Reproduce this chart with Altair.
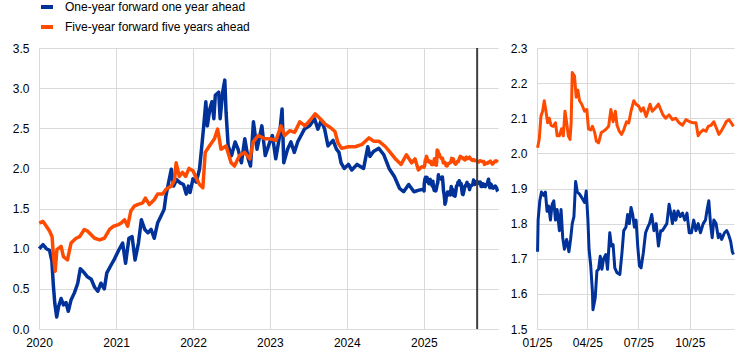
import altair as alt
import pandas as pd

S1 = "One-year forward one year ahead"
S2 = "Five-year forward five years ahead"
BLUE = "#003299"
ORANGE = "#FF4B00"
FONT = "Liberation Sans"

# ---------- 2020-2024 history (left panel) ----------
blue_hist_dates = [
    "2020-01-02", "2020-01-20", "2020-02-05", "2020-02-20", "2020-03-02", "2020-03-09", "2020-03-16",
    "2020-03-25", "2020-04-03", "2020-04-15", "2020-04-26", "2020-05-08", "2020-05-19", "2020-06-01",
    "2020-06-17", "2020-07-03", "2020-07-15", "2020-08-03", "2020-08-18", "2020-09-05", "2020-09-21",
    "2020-10-06", "2020-10-21", "2020-11-06", "2020-11-18", "2020-12-09", "2020-12-22",
    "2021-01-15", "2021-02-01", "2021-02-15", "2021-03-03", "2021-03-18", "2021-04-01", "2021-04-17",
    "2021-05-01", "2021-05-17", "2021-06-01", "2021-06-16", "2021-07-01", "2021-07-17", "2021-08-01",
    "2021-08-17", "2021-08-25", "2021-09-10", "2021-09-20", "2021-10-01", "2021-10-15", "2021-11-01",
    "2021-11-17", "2021-11-30", "2021-12-10", "2021-12-18",
    "2022-01-01", "2022-01-16", "2022-02-01", "2022-02-12", "2022-02-21", "2022-03-03", "2022-03-10",
    "2022-03-22", "2022-04-01", "2022-04-10", "2022-04-17", "2022-05-03", "2022-05-10", "2022-05-22",
    "2022-06-01", "2022-06-07", "2022-06-17", "2022-07-03", "2022-07-20", "2022-08-03", "2022-08-19",
    "2022-09-04", "2022-09-20", "2022-10-01", "2022-10-15", "2022-11-01", "2022-11-24", "2022-12-10",
    "2023-01-01", "2023-01-13", "2023-01-29", "2023-02-14", "2023-02-28", "2023-03-08", "2023-03-26",
    "2023-04-11", "2023-04-27", "2023-05-13", "2023-05-29", "2023-06-14", "2023-07-08", "2023-08-01",
    "2023-08-17", "2023-09-02", "2023-09-18", "2023-10-04", "2023-10-28", "2023-11-13", "2023-11-25",
    "2023-12-05", "2023-12-20",
    "2024-01-09", "2024-01-25", "2024-02-19", "2024-03-21", "2024-04-10", "2024-04-20", "2024-05-07",
    "2024-06-01", "2024-06-25", "2024-07-20", "2024-08-14", "2024-09-08", "2024-09-27", "2024-10-21",
    "2024-11-15", "2024-12-09", "2024-12-30",
]
blue_hist_vals = [
    1.00, 1.05, 1.00, 0.98, 0.85, 0.55, 0.32,
    0.15, 0.28, 0.38, 0.30, 0.33, 0.22, 0.36,
    0.45, 0.57, 0.75, 0.70, 0.65, 0.62, 0.52,
    0.47, 0.57, 0.50, 0.70, 0.80, 0.86,
    0.99, 1.07, 0.82, 1.13, 1.15, 0.86, 1.07,
    1.36, 1.24, 1.20, 1.24, 1.13, 1.32, 1.40,
    1.49, 1.65, 1.86, 1.99, 1.78, 1.86, 1.82,
    1.80, 1.68, 1.78, 1.70,
    1.87, 1.83, 1.99, 2.28, 2.53, 2.83, 2.53,
    2.74, 2.83, 2.62, 2.91, 2.95, 2.62, 2.95,
    3.10, 2.70, 2.28, 2.16, 2.33, 2.24, 2.07,
    2.37, 2.12, 2.03, 2.58, 2.24, 2.53, 2.16,
    2.33, 2.41, 2.12, 2.37, 2.74, 2.07, 2.24,
    2.33, 2.20, 2.33, 2.41, 2.49, 2.53, 2.62,
    2.49, 2.60, 2.49, 2.28, 2.35, 2.24, 2.20,
    2.07, 2.00,
    2.05, 1.98, 2.05, 2.00, 2.27, 2.15, 2.21,
    2.25, 2.17, 2.00, 1.90, 1.75, 1.71, 1.80,
    1.71, 1.73, 1.74,
]

orange_hist_dates = [
    "2020-01-02", "2020-01-20", "2020-02-05", "2020-02-20", "2020-03-03", "2020-03-10", "2020-03-18",
    "2020-03-26", "2020-04-15", "2020-04-26", "2020-05-15", "2020-06-01", "2020-06-25", "2020-07-12",
    "2020-08-03", "2020-08-18", "2020-09-21", "2020-10-15", "2020-11-06", "2020-12-01", "2020-12-20",
    "2021-01-12", "2021-01-25", "2021-02-10", "2021-02-25", "2021-03-12", "2021-03-28", "2021-04-13",
    "2021-05-07", "2021-05-20", "2021-06-08", "2021-07-01", "2021-07-17", "2021-08-10", "2021-08-26",
    "2021-09-20", "2021-10-05", "2021-10-13", "2021-10-28", "2021-11-12", "2021-11-27", "2021-12-13",
    "2022-01-01", "2022-01-20", "2022-02-01", "2022-02-17", "2022-02-28", "2022-03-20", "2022-04-13",
    "2022-04-28", "2022-05-14", "2022-06-07", "2022-07-01", "2022-07-17", "2022-08-10", "2022-09-03",
    "2022-09-28", "2022-10-14", "2022-11-07", "2022-12-08",
    "2023-01-01", "2023-01-30", "2023-02-23", "2023-03-12", "2023-04-05", "2023-04-29", "2023-05-23",
    "2023-06-17", "2023-07-11", "2023-08-04", "2023-08-28", "2023-09-21", "2023-10-15", "2023-11-06",
    "2023-11-20", "2023-12-07",
    "2024-01-09", "2024-02-10", "2024-03-14", "2024-04-15", "2024-05-07", "2024-06-01", "2024-07-03",
    "2024-07-28", "2024-08-22", "2024-09-15", "2024-10-10", "2024-11-04", "2024-11-20", "2024-12-06",
    "2024-12-22",
]
orange_hist_vals = [
    1.32, 1.34, 1.28, 1.22, 1.15, 0.90, 0.72,
    0.99, 1.03, 0.90, 0.86, 1.07, 1.13, 1.15,
    1.24, 1.22, 1.13, 1.11, 1.13, 1.24, 1.28,
    1.30, 1.32, 1.36, 1.28, 1.47, 1.53, 1.55,
    1.57, 1.63, 1.55, 1.61, 1.68, 1.68, 1.74,
    1.78, 1.85, 2.07, 1.90, 1.95, 1.90, 2.00,
    1.97, 1.86, 1.80, 1.76, 2.20, 2.28, 2.37,
    2.49, 2.24, 2.28, 2.07, 2.03, 2.16, 2.20,
    2.12, 2.33, 2.41, 2.37,
    2.37, 2.35, 2.53, 2.41, 2.47, 2.45, 2.58,
    2.53, 2.60, 2.68, 2.62, 2.55, 2.51, 2.46,
    2.32, 2.25,
    2.27, 2.27, 2.30, 2.38, 2.34, 2.34, 2.27,
    2.19, 2.11, 2.05, 2.17, 2.07, 2.12, 1.98,
    2.02,
]

# ---------- 2025 (right panel, also end of left panel) ----------
blue_2025_dates = [
    "01-02", "01-03", "01-06", "01-09", "01-13", "01-16", "01-19", "01-22", "01-25", "01-28", "01-31",
    "02-03", "02-06", "02-10", "02-13", "02-16", "02-19", "02-23", "02-27", "03-02", "03-05", "03-08",
    "03-11", "03-14", "03-18", "03-22", "03-27", "03-30", "04-02", "04-04", "04-07", "04-10", "04-11",
    "04-15", "04-18", "04-21", "04-24", "04-27", "04-30", "05-04", "05-07", "05-11", "05-14", "05-17",
    "05-20", "05-24", "05-29", "06-02", "06-05", "06-09", "06-12", "06-15", "06-18", "06-21", "06-24",
    "06-27", "06-30", "07-03", "07-06", "07-10", "07-14", "07-18", "07-21", "07-25", "07-29", "08-02",
    "08-06", "08-10", "08-13", "08-17", "08-21", "08-25", "08-28", "08-31", "09-03", "09-06", "09-10",
    "09-14", "09-18", "09-22", "09-26", "09-30", "10-04", "10-08", "10-12", "10-16", "10-20", "10-25",
    "10-29", "11-01", "11-04", "11-07", "11-10", "11-13", "11-17", "11-21", "11-24", "11-27", "12-02",
    "12-06", "12-09", "12-13", "12-16", "12-18",
]
blue_2025_vals = [
    1.72, 1.81, 1.865, 1.89, 1.88, 1.89, 1.835, 1.85, 1.81, 1.855, 1.865,
    1.81, 1.84, 1.78, 1.84, 1.76, 1.727, 1.755, 1.72, 1.755, 1.80, 1.82,
    1.92, 1.89, 1.884, 1.874, 1.86, 1.893, 1.81, 1.727, 1.68, 1.607, 1.555,
    1.588, 1.665, 1.67, 1.707, 1.67, 1.70, 1.712, 1.67, 1.774, 1.736, 1.74,
    1.674, 1.66, 1.655, 1.72, 1.78, 1.79, 1.826, 1.80, 1.846, 1.826, 1.79,
    1.81, 1.736, 1.68, 1.674, 1.717, 1.774, 1.79, 1.80, 1.826, 1.78, 1.80,
    1.736, 1.78, 1.78, 1.79, 1.80, 1.855, 1.83, 1.80, 1.836, 1.81, 1.836,
    1.82, 1.83, 1.81, 1.83, 1.774, 1.774, 1.81, 1.78, 1.80, 1.774, 1.80,
    1.81, 1.84, 1.865, 1.80, 1.76, 1.81, 1.80, 1.76, 1.77, 1.755, 1.774,
    1.78, 1.77, 1.75, 1.72, 1.712,
]
orange_2025_dates = [
    "01-02", "01-05", "01-08", "01-11", "01-14", "01-17", "01-20", "01-23", "01-26", "01-30",
    "02-03", "02-06", "02-10", "02-14", "02-17", "02-20", "02-23", "02-26", "03-01", "03-03",
    "03-05", "03-09", "03-12", "03-15", "03-18", "03-22", "03-27", "03-31", "04-03", "04-07",
    "04-10", "04-14", "04-17", "04-21", "04-26", "04-30", "05-05", "05-09", "05-13", "05-17",
    "05-21", "05-24", "05-28", "06-01", "06-05", "06-10", "06-14", "06-18", "06-23", "06-27",
    "07-02", "07-06", "07-10", "07-15", "07-19", "07-22", "07-26", "08-01", "08-06", "08-10",
    "08-14", "08-19", "08-25", "08-31", "09-06", "09-12", "09-18", "09-24", "10-01", "10-07",
    "10-12", "10-16", "10-20", "10-25", "10-30", "11-03", "11-08", "11-13", "11-18", "11-22",
    "11-26", "12-01", "12-05", "12-10", "12-14", "12-18",
]
orange_2025_vals = [
    2.016, 2.04, 2.105, 2.12, 2.15, 2.12, 2.087, 2.10, 2.08, 2.077,
    2.087, 2.05, 2.05, 2.07, 2.05, 2.12, 2.087, 2.05, 2.04, 2.087,
    2.23, 2.22, 2.16, 2.18, 2.15, 2.14, 2.12, 2.125, 2.07, 2.067,
    2.077, 2.06, 2.035, 2.03, 2.06, 2.063, 2.07, 2.077, 2.125, 2.09,
    2.12, 2.08, 2.063, 2.054, 2.067, 2.09, 2.087, 2.12, 2.15, 2.14,
    2.134, 2.12, 2.13, 2.105, 2.125, 2.14, 2.12, 2.13, 2.14, 2.125,
    2.11, 2.10, 2.11, 2.096, 2.10, 2.087, 2.08, 2.096, 2.09, 2.087,
    2.087, 2.05, 2.06, 2.067, 2.063, 2.077, 2.08, 2.09, 2.07, 2.054,
    2.063, 2.077, 2.09, 2.096, 2.087, 2.077,
]

marker_dates = ["2025-09-11"]

year_ticks = [2020, 2021, 2022, 2023, 2024, 2025]
quarter_ticks = [1, 4, 7, 10]
left_y_ticks = [0.0, 0.5, 1.0, 1.5, 2.0, 2.5, 3.0, 3.5]
right_y_ticks = [1.5, 1.6, 1.7, 1.8, 1.9, 2.0, 2.1, 2.2, 2.3]

# ---------- frames ----------
b25 = ["2025-" + d for d in blue_2025_dates]
o25 = ["2025-" + d for d in orange_2025_dates]


def frame(dates, vals, name):
    return pd.DataFrame({"date": dates, "value": vals, "series": name})


left_df = pd.concat([
    frame(blue_hist_dates + b25, blue_hist_vals + blue_2025_vals, S1),
    frame(orange_hist_dates + o25, orange_hist_vals + orange_2025_vals, S2),
])
right_df = pd.concat([
    frame(b25, blue_2025_vals, S1),
    frame(o25, orange_2025_vals, S2),
])
marker_df = pd.DataFrame({"date": marker_dates})

color_scale = alt.Scale(domain=[S1, S2], range=[BLUE, ORANGE])
legend = alt.Legend(
    title=None, orient="none", legendX=0, legendY=-49, direction="vertical",
    symbolType="stroke", symbolSize=144, symbolStrokeWidth=4,
    labelFont=FONT, labelFontSize=12, labelColor="#000000", labelOffset=10,
    rowPadding=4, labelLimit=400,
)


def dt(y, m=1, d=1):
    return alt.DateTime(year=y, month=m, date=d, utc=True)


left_x = alt.X(
    "date:T",
    scale=alt.Scale(type="utc", domain=[dt(2020), dt(2025, 12, 19)]),
    axis=alt.Axis(values=[dt(y) for y in year_ticks], format="%Y", labelFlush=False),
    title=None,
)
left_y = alt.Y(
    "value:Q",
    scale=alt.Scale(domain=[0, 3.5], nice=False, zero=False),
    axis=alt.Axis(values=left_y_ticks, format=".1f"),
    title=None,
)
right_x = alt.X(
    "date:T",
    scale=alt.Scale(type="utc", domain=[dt(2025), dt(2025, 12, 19)]),
    axis=alt.Axis(values=[dt(2025, m) for m in quarter_ticks], format="%m/%y", labelFlush=False),
    title=None,
)
right_y = alt.Y(
    "value:Q",
    scale=alt.Scale(domain=[1.5, 2.3], nice=False, zero=False),
    axis=alt.Axis(values=right_y_ticks, format=".1f"),
    title=None,
)


def lines(df, x, y, with_legend, width):
    base = alt.Chart(df)
    col = alt.Color("series:N", scale=color_scale, legend=legend if with_legend else None,
                    sort=[S1, S2])
    l1 = base.transform_filter(alt.datum.series == S1).mark_line(
        strokeWidth=width, strokeJoin="round").encode(x=x, y=y, color=col)
    l2 = base.transform_filter(alt.datum.series == S2).mark_line(
        strokeWidth=width, strokeJoin="round").encode(x=x, y=y, color=col)
    return l1, l2


l1, l2 = lines(left_df, left_x, left_y, True, 3.5)
rule = alt.Chart(marker_df).mark_rule(color="#404040", strokeWidth=2).encode(x=alt.X("date:T"))
left = alt.layer(l1, l2, rule).properties(width=459, height=281)

r1, r2 = lines(right_df, right_x, right_y, False, 3)
right = alt.layer(r1, r2).properties(width=197, height=281)

chart = (
    alt.hconcat(left, right, spacing=10)
    .properties(padding={"left": 12, "top": -1, "right": 0, "bottom": 0})
    .configure_view(stroke=None)
    .configure_axis(
        labelFont=FONT, labelFontSize=12, labelColor="#000000",
        grid=True, gridColor="#d9d9d9", gridWidth=1,
        domain=False, ticks=False,
    )
    .configure_axisX(labelPadding=8)
    .configure_axisY(labelPadding=10)
)

chart.save("out.html", embed_options={"renderer": "svg", "actions": False})
